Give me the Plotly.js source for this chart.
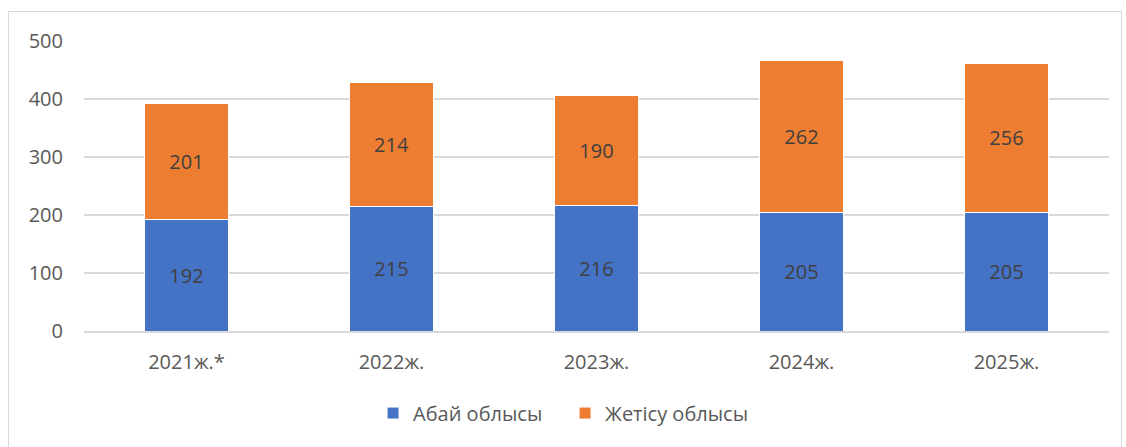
<!DOCTYPE html>
<html><head><meta charset="utf-8">
<script src="https://cdn.plot.ly/plotly-3.0.1.min.js"></script>
<style>
html,body{margin:0;padding:0;background:#fff;}
#chart{width:1126px;height:447px;}
#frame{position:absolute;left:8px;top:11px;width:1114px;height:440px;border:1px solid #d9d9d9;pointer-events:none;box-sizing:border-box;}
</style></head>
<body>
<div id="chart"></div>
<div id="frame"></div>
<script>
const categories = ["2021ж.*", "2022ж.", "2023ж.", "2024ж.", "2025ж."];
const abai = [192, 215, 216, 205, 205];
const zhetisu = [201, 214, 190, 262, 256];
const seriesNames = ["Абай облысы", "Жетісу облысы"];
const yTicks = [0, 100, 200, 300, 400, 500];

const font = "Open Sans, DejaVu Sans, sans-serif";
const common = {
  type: 'bar', x: categories, width: 0.405,
  textposition: 'inside', insidetextanchor: 'middle',
  textfont: {family: font, size: 20, color: '#404040'},
  hoverinfo: 'none'
};
const data = [
  Object.assign({}, common, {y: abai, name: seriesNames[0], text: abai.map(String),
    marker: {color: '#4472c4', line: {color: '#ffffff', width: 1}}}),
  Object.assign({}, common, {y: zhetisu, name: seriesNames[1], text: zhetisu.map(String),
    marker: {color: '#ed7d31', line: {color: '#ffffff', width: 1}}})
];
const layout = {
  width: 1126, height: 447,
  margin: {l: 84, r: 17, t: 41, b: 116},
  barmode: 'stack',
  paper_bgcolor: '#ffffff', plot_bgcolor: '#ffffff',
  showlegend: true,
  legend: {orientation: 'h', x: 0.282, xanchor: 'left', y: -0.283, yanchor: 'middle',
    font: {family: font, size: 20, color: '#595959'}, traceorder: 'normal', itemwidth: 30,
    entrywidth: 147, entrywidthmode: 'pixels'},
  xaxis: {type: 'category', range: [-0.5, 4.5], showgrid: false, showline: true,
    linecolor: '#d9d9d9', linewidth: 1.5, ticks: '', ticklabelstandoff: 12,
    tickfont: {family: font, size: 20, color: '#595959'}, fixedrange: true},
  yaxis: {range: [0, 500], tickvals: yTicks, ticktext: yTicks.map(String), showgrid: true,
    gridcolor: '#d9d9d9', gridwidth: 1.5, zeroline: false, showline: false, ticks: '',
    ticklabelstandoff: 20,
    tickfont: {family: font, size: 20, color: '#595959'}, fixedrange: true}
};
Plotly.newPlot('chart', data, layout, {displayModeBar: false, staticPlot: true});
</script>
</body></html>
